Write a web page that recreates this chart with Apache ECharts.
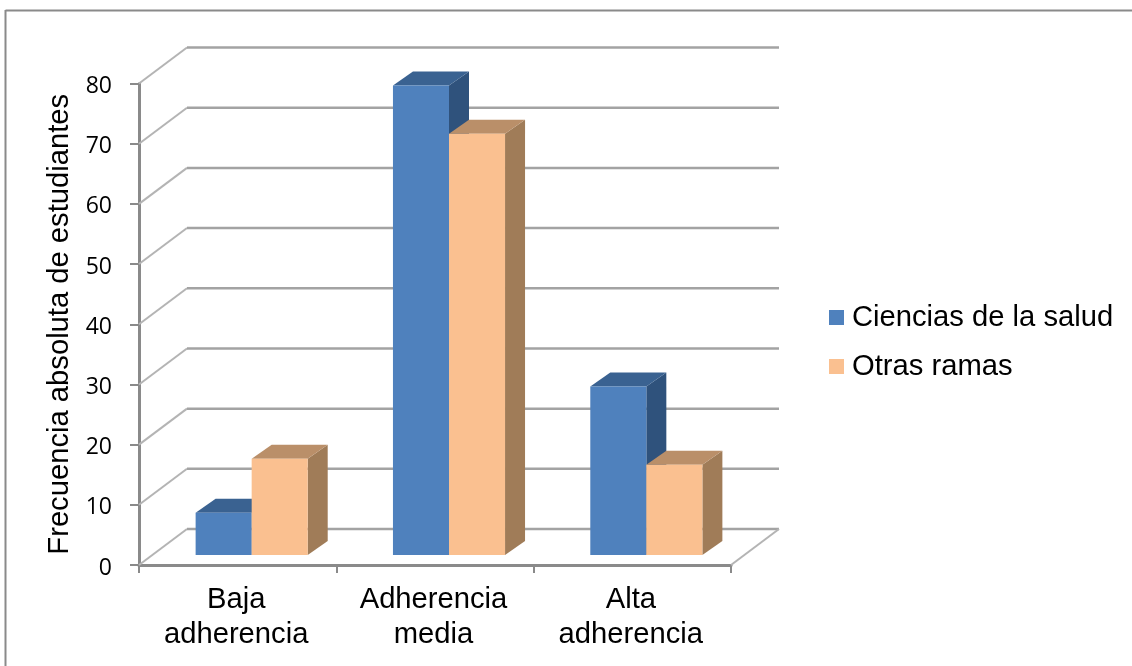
<!DOCTYPE html>
<html>
<head>
<meta charset="utf-8">
<style>html,body{margin:0;padding:0;background:#fff}#chart{width:1132px;height:666px}</style>
<script src="https://cdn.jsdelivr.net/npm/echarts@6/dist/echarts.min.js"></script>
</head>
<body>
<div id="chart"></div>
<script>
const categories = ['Baja\nadherencia', 'Adherencia\nmedia', 'Alta\nadherencia'];
const cienciasSalud = [7, 78, 28];
const otrasRamas = [16, 70, 15];
const yTicks = [0, 10, 20, 30, 40, 50, 60, 70, 80];

// Pseudo-3D projection, in pixels
const WALL_DX = 48, WALL_DY = -36;   // front plane to back wall
const BAR_DX = 14, BAR_DY = -10;     // front plane to bar front face
const DEPTH_DX = 20, DEPTH_DY = -14; // bar front face to bar back face
const BAR_RATIO = 0.284;             // bar width as a share of the category band

const LINE = '#a3a3a3';
const DIAGONAL = '#b4b4b4';
const AXIS = '#8a8a8a';
const FONT = '"Liberation Sans", Arial, sans-serif';

function wallLines(params, api) {
  const sys = params.coordSys;
  const y = api.coord([0, api.value(0)])[1];
  const left = sys.x, right = sys.x + sys.width;
  const flat = { stroke: LINE, lineWidth: 2.5 };
  const slant = { stroke: DIAGONAL, lineWidth: 2 };
  const children = [
    { type: 'line', shape: { x1: left, y1: y, x2: left + WALL_DX, y2: y + WALL_DY }, style: slant },
    { type: 'line', shape: { x1: left + WALL_DX, y1: y + WALL_DY, x2: right + WALL_DX, y2: y + WALL_DY }, style: flat }
  ];
  if (api.value(0) === 0) {
    children.push({ type: 'line', shape: { x1: right, y1: y, x2: right + WALL_DX, y2: y + WALL_DY }, style: slant });
  }
  return { type: 'group', children };
}

function box(side, front, topFace, sideFace) {
  return function (params, api) {
    const i = api.value(0);
    const base = api.coord([i, 0]);
    const top = api.coord([i, api.value(1)]);
    const w = api.size([1, 0])[0] * BAR_RATIO;
    const x0 = base[0] + BAR_DX + (side < 0 ? -w : 0);
    const x1 = x0 + w;
    const yb = base[1] + BAR_DY;
    const yt = top[1] + BAR_DY;
    return {
      type: 'group',
      children: [
        { type: 'polygon', shape: { points: [[x1, yt], [x1 + DEPTH_DX, yt + DEPTH_DY], [x1 + DEPTH_DX, yb + DEPTH_DY], [x1, yb]] }, style: { fill: sideFace } },
        { type: 'polygon', shape: { points: [[x0, yt], [x0 + DEPTH_DX, yt + DEPTH_DY], [x1 + DEPTH_DX, yt + DEPTH_DY], [x1, yt]] }, style: { fill: topFace } },
        { type: 'rect', shape: { x: x0, y: yt, width: w, height: yb - yt }, style: { fill: front } }
      ]
    };
  };
}

const chart = echarts.init(document.getElementById('chart'), null, { renderer: 'canvas' });
chart.setOption({
  animation: false,
  backgroundColor: '#ffffff',
  graphic: [
    { type: 'line', shape: { x1: 5.5, y1: 10.5, x2: 1132, y2: 10.5 }, style: { stroke: AXIS, lineWidth: 2 } },
    { type: 'line', shape: { x1: 5.5, y1: 10, x2: 5.5, y2: 666 }, style: { stroke: AXIS, lineWidth: 2 } }
  ],
  grid: { left: 139, top: 83.5, width: 592, height: 481.5 },
  legend: {
    left: 824,
    top: 298,
    orient: 'vertical',
    icon: 'rect',
    itemWidth: 15,
    itemHeight: 15,
    itemGap: 20,
    textStyle: { fontFamily: FONT, fontSize: 29.2, color: '#000', padding: [0, 0, 0, 3] },
    data: ['Ciencias de la salud', 'Otras ramas']
  },
  xAxis: {
    type: 'category',
    data: categories,
    axisLine: { lineStyle: { color: AXIS, width: 3 } },
    axisTick: { show: true, length: 8, lineStyle: { color: AXIS, width: 2 } },
    axisLabel: { fontFamily: FONT, fontSize: 29.2, lineHeight: 35, color: '#000', margin: 17, padding: [0, 3, 0, 0] }
  },
  yAxis: {
    type: 'value',
    min: 0,
    max: 80,
    interval: 10,
    name: 'Frecuencia absoluta de estudiantes',
    nameLocation: 'middle',
    nameGap: 63,
    nameRotate: 90,
    nameTextStyle: { fontFamily: FONT, fontSize: 29.2, color: '#000' },
    axisLine: { show: true, lineStyle: { color: AXIS, width: 3 } },
    axisTick: { show: true, length: 9, lineStyle: { color: AXIS, width: 2 } },
    axisLabel: { fontFamily: '"Open Sans", sans-serif', fontSize: 23, color: '#000', margin: 27, verticalAlign: 'top', lineHeight: 6 },
    splitLine: { show: false }
  },
  series: [
    {
      type: 'custom',
      silent: true,
      z: 1,
      encode: { y: 0 },
      data: yTicks.map(t => [t]),
      renderItem: wallLines
    },
    {
      name: 'Ciencias de la salud',
      type: 'custom',
      z: 2,
      itemStyle: { color: '#4f81bd' },
      encode: { x: 0, y: 1 },
      data: cienciasSalud.map((v, i) => [i, v]),
      renderItem: box(-1, '#4f81bd', '#3a6291', '#2f527c')
    },
    {
      name: 'Otras ramas',
      type: 'custom',
      z: 3,
      itemStyle: { color: '#fac090' },
      encode: { x: 0, y: 1 },
      data: otrasRamas.map((v, i) => [i, v]),
      renderItem: box(1, '#fac090', '#ba8f69', '#a07c58')
    }
  ]
});
</script>
</body>
</html>
